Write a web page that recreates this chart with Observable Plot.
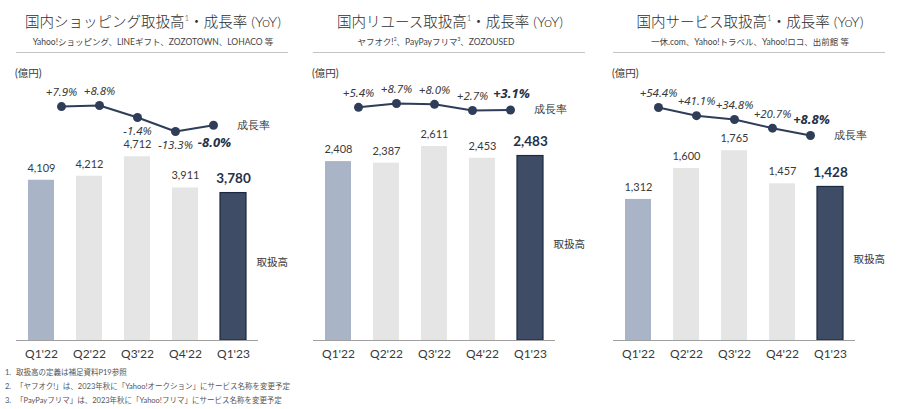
<!DOCTYPE html>
<html><head><meta charset="utf-8">
<script src="https://cdn.jsdelivr.net/npm/d3@7"></script>
<script src="https://cdn.jsdelivr.net/npm/@observablehq/plot@0.6"></script>
<style>
body{margin:0;background:#fff;}
#root{position:relative;width:900px;height:409px;overflow:hidden;font-family:Lato,"Noto Sans CJK JP",sans-serif;color:#3a3a3a;}
.abs{position:absolute;white-space:nowrap;}
.title{font-size:14.5px;line-height:18px;text-align:center;width:300px;font-weight:300;color:#2e2e2e;}
.title sup{font-size:8px;vertical-align:6px;line-height:0;}
.sub{font-size:8.5px;line-height:10px;text-align:center;width:300px;color:#444;}
.sub sup{font-size:5px;vertical-align:4px;line-height:0;}
.divider{height:1px;background:#c4c4c4;width:272px;}
.unit{font-size:10.5px;line-height:12px;}
.foot{font-size:7.5px;line-height:9px;color:#555;left:5px;}
.foot span{display:inline-block;width:11px;}
svg{overflow:visible;}
</style></head><body><div id="root"></div>
<script>
// ---- data ----
const quarters = ["Q1'22", "Q2'22", "Q3'22", "Q4'22", "Q1'23"];
const shoppingValues = [4109, 4212, 4712, 3911, 3780];
const shoppingGrowth = [7.9, 8.8, -1.4, -13.3, -8.0];
const reuseValues = [2408, 2387, 2611, 2453, 2483];
const reuseGrowth = [5.4, 8.7, 8.0, 2.7, 3.1];
const serviceValues = [1312, 1600, 1765, 1457, 1428];
const serviceGrowth = [54.4, 41.1, 34.8, 20.7, 8.8];
const titles = ["国内ショッピング取扱高<sup>1</sup>・成長率 (YoY)", "国内リユース取扱高<sup>1</sup>・成長率 (YoY)", "国内サービス取扱高<sup>1</sup>・成長率 (YoY)"];
const subtitles = ["Yahoo!ショッピング、LINEギフト、ZOZOTOWN、LOHACO 等", "ヤフオク!<sup>2</sup>、PayPayフリマ<sup>3</sup>、ZOZOUSED", "一休.com、Yahoo!トラベル、Yahoo!ロコ、出前館 等"];
const unitLabel = "(億円)";
const growthLabel = "成長率";
const volumeLabel = "取扱高";
const footnotes = ["取扱高の定義は補足資料P19参照", "「ヤフオク!」は、2023年秋に「Yahoo!オークション」にサービス名称を変更予定", "「PayPayフリマ」は、2023年秋に「Yahoo!フリマ」にサービス名称を変更予定"];

// ---- layout / style ----
const NAVY = "#2f3d58", BAR_LAST = "#3e4d65", BAR_FIRST = "#a9b4c6", BAR_MID = "#e5e5e5", TEXT = "#3a3a3a", BOLD = "#243149";
const panels = [
  {left: 0, subShift: 0, values: shoppingValues, growth: shoppingGrowth, below: [false, false, true, true, true], yMax: 5128, gDomain: [-13.3, 8.8], gRange: [131, 105]},
  {left: 297, subShift: -14, values: reuseValues, growth: reuseGrowth, below: [false, false, false, false, false], yMax: 2692, gDomain: [2.7, 8.7], gRange: [110, 103]},
  {left: 597, subShift: 0, values: serviceValues, growth: serviceGrowth, below: [false, false, false, false, false], yMax: 1860, gDomain: [8.8, 54.4], gRange: [135, 107]}
];
const root = document.getElementById("root");
function addDiv(cls, html, left, top) {
  const d = document.createElement("div");
  d.className = "abs " + cls;
  d.innerHTML = html;
  d.style.left = left + "px";
  d.style.top = top + "px";
  root.appendChild(d);
  return d;
}
const fmtG = v => (v >= 0 ? "+" : "-") + Math.abs(v).toFixed(1) + "%";
const fmtV = d3.format(",");
const LINE_TOP = 60, BAR_TOP = 130;

panels.forEach((p, pi) => {
  addDiv("title", titles[pi], p.left + 3, 13);
  addDiv("sub", subtitles[pi], p.left + 3 + p.subShift, 37);
  addDiv("divider", "", p.left + 16, 52);
  addDiv("unit", unitLabel, p.left + 15, 67);

  const data = quarters.map((q, i) => ({q, i, v: p.values[i], g: p.growth[i], below: p.below[i], last: i === quarters.length - 1}));

  // growth line
  const line = Plot.plot({
    width: 300, height: 110, margin: 0,
    x: {type: "point", domain: quarters, range: [40, 234], axis: null},
    y: {domain: p.gDomain, range: p.gRange.map(v => v - LINE_TOP), axis: null},
    marks: [
      Plot.line(data, {x: "q", y: "g", stroke: NAVY, strokeWidth: 2}),
      Plot.dot(data, {x: "q", y: "g", r: 4.5, fill: NAVY}),
      Plot.text(data.filter(d => !d.last && !d.below), {x: "q", y: "g", text: d => fmtG(d.g), dy: -14, fontSize: 11.5, fontStyle: "italic", fill: TEXT}),
      Plot.text(data.filter(d => !d.last && d.below), {x: "q", y: "g", text: d => fmtG(d.g), dy: 14, fontSize: 11.5, fontStyle: "italic", fill: TEXT}),
      Plot.text(data.filter(d => d.last), {x: "q", y: "g", text: d => fmtG(d.g), dy: p.below[4] ? 18 : -16, dx: 1, fontSize: 13, fontStyle: "italic", fontWeight: "bold", fill: BOLD}),
      Plot.text(data.filter(d => d.last), {x: "q", y: "g", text: () => growthLabel, dx: 23, textAnchor: "start", fontSize: 10.5, fill: TEXT})
    ]
  });
  line.style.position = "absolute";
  line.style.left = p.left + "px";
  line.style.top = LINE_TOP + "px";
  root.appendChild(line);

  // volume bars
  const bars = Plot.plot({
    width: 300, height: 240, marginTop: 10, marginBottom: 30, marginLeft: 16, marginRight: 42,
    style: {fontSize: "12px", color: TEXT, fontFamily: "Lato, 'Noto Sans CJK JP', sans-serif"},
    x: {type: "band", domain: quarters, paddingInner: 0.46, paddingOuter: 0.23, tickSize: 0, tickPadding: 9, label: null},
    y: {domain: [0, p.yMax], axis: null},
    color: {type: "identity"},
    marks: [
      Plot.barY(data, {x: "q", y: "v", fill: d => d.i === 0 ? BAR_FIRST : d.last ? BAR_LAST : BAR_MID}),
      Plot.barY(data.filter(d => d.last), {x: "q", y: "v", fill: BAR_LAST, stroke: "#1b2940", strokeWidth: 1.2}),
      Plot.ruleY([0], {stroke: "#a0a0a0", strokeWidth: 1}),
      Plot.text(data.filter(d => !d.last), {x: "q", y: "v", text: d => fmtV(d.v), dy: -12, fontSize: 11, fill: TEXT}),
      Plot.text(data.filter(d => d.last), {x: "q", y: "v", text: d => fmtV(d.v), dy: -14, fontSize: 13.5, fontWeight: "bold", fill: BOLD}),
      Plot.text(data.filter(d => d.last), {x: "q", y: d => d.v / 2, text: () => volumeLabel, dx: 23, dy: -4, textAnchor: "start", fontSize: 10.5, fill: TEXT})
    ]
  });
  bars.style.position = "absolute";
  bars.style.left = p.left + "px";
  bars.style.top = BAR_TOP + "px";
  root.appendChild(bars);
});

footnotes.forEach((t, i) => {
  addDiv("foot", `<span>${i + 1}.</span>${t}`, 5, 368 + i * 14);
});
</script>
</body></html>
